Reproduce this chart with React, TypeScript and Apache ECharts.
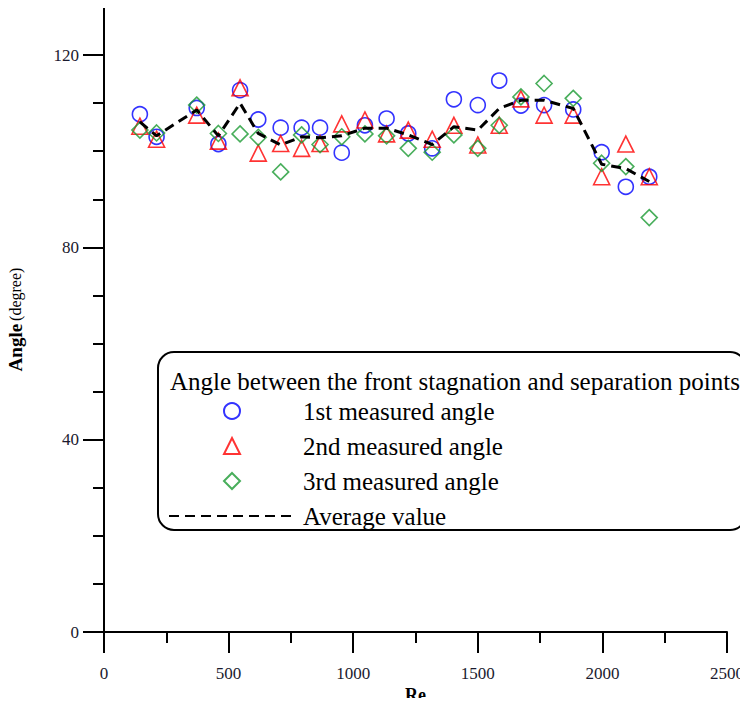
import React, { useEffect, useRef } from "react";
import * as echarts from "echarts";

const FONT = "'Liberation Serif', 'Times New Roman', serif";

const reValues = [144, 211, 372, 459, 546, 619, 709, 793, 867, 954, 1047, 1134, 1221, 1317, 1404, 1500, 1586, 1673, 1766, 1883, 1997, 2094, 2188];
const firstAngle = [107.7, 103.0, 109.0, 101.5, 112.7, 106.6, 104.9, 104.9, 104.9, 99.7, 105.4, 106.8, 103.7, 100.6, 110.8, 109.6, 114.7, 109.5, 109.6, 108.7, 99.8, 92.6, 94.7];
const secondAngle = [105.2, 102.5, 107.5, 102.1, 113.2, 99.6, 101.6, 100.6, 101.6, 105.7, 106.5, 103.6, 104.4, 102.5, 105.4, 101.3, 105.4, 110.9, 107.5, 107.5, 94.7, 101.5, 94.7];
const thirdAngle = [104.4, 103.8, 109.6, 103.7, 103.6, 102.9, 95.7, 103.4, 101.4, 103.0, 103.6, 103.2, 100.6, 99.8, 103.4, 100.6, 105.4, 111.3, 114.1, 111.0, 97.5, 96.8, 86.2];
const averageAngle = [106.1, 103.2, 108.6, 103.2, 110.0, 103.7, 101.3, 103.0, 102.8, 103.2, 104.8, 104.8, 103.4, 101.4, 105.1, 104.4, 108.9, 110.6, 110.6, 108.9, 97.3, 96.4, 93.7];

const seriesNames = ["1st measured angle", "2nd measured angle", "3rd measured angle", "Average value"];
const legendTitle = "Angle between the front stagnation and separation points";
const yMajorTicks = [0, 40, 80, 120];
const yMinorTicks = [10, 20, 30, 50, 60, 70, 90, 100, 110];

const pairs = (ys: number[]) => reValues.map((x, i) => [x, ys[i]]);

export default function App() {
  const ref = useRef<HTMLDivElement>(null);
  useEffect(() => {
    if (!ref.current) return;
    const chart = echarts.init(ref.current, null, { renderer: "svg" });
    const axisLine = { show: true, lineStyle: { color: "#000", width: 2 } };
    const markerStyle = (c: string) => ({ color: "transparent", borderColor: c, borderWidth: 1.6 });
    const legendText = { fontFamily: FONT, fontSize: 25, color: "#000", lineHeight: 26 };
    chart.setOption({
      animation: false,
      textStyle: { fontFamily: FONT },
      grid: { left: 104, right: 21, top: 7, bottom: 74, containLabel: false, outerBoundsMode: "none" },
      xAxis: {
        type: "value",
        min: 0,
        max: 2500,
        interval: 500,
        name: "Re",
        nameLocation: "middle",
        nameGap: 54,
        nameMoveOverlap: false,
        nameTextStyle: { fontFamily: FONT, fontSize: 18, fontWeight: "bold", color: "#000" },
        axisLine,
        axisTick: { show: true, inside: false, length: 21, lineStyle: { color: "#000", width: 2 } },
        minorTick: { show: true, splitNumber: 2, length: 11, lineStyle: { color: "#000", width: 2 } },
        axisLabel: { margin: 33, fontFamily: FONT, fontSize: 17, color: "#1a1a2e", formatter: (v: number) => String(v) },
        splitLine: { show: false },
      },
      yAxis: [
        {
          type: "value",
          min: 0,
          max: 130,
          name: "{b|Angle} {n|(degree)}",
          nameLocation: "middle",
          nameGap: 79,
          nameRotate: 90,
          nameMoveOverlap: false,
          nameTextStyle: {
            fontFamily: FONT,
            color: "#000",
            rich: {
              b: { fontFamily: FONT, fontSize: 19, fontWeight: "bold", color: "#000" },
              n: { fontFamily: FONT, fontSize: 16, color: "#000" },
            },
          },
          axisLine,
          axisTick: { show: true, inside: false, length: 21, customValues: yMajorTicks, lineStyle: { color: "#000", width: 2 } },
          axisLabel: { margin: 25, customValues: yMajorTicks, fontFamily: FONT, fontSize: 17, color: "#1a1a2e" },
          splitLine: { show: false },
        },
        {
          type: "value",
          min: 0,
          max: 130,
          position: "left",
          offset: 0,
          axisLine: { show: false },
          axisTick: { show: true, inside: false, length: 11, customValues: yMinorTicks, lineStyle: { color: "#000", width: 2 } },
          axisLabel: { show: false },
          splitLine: { show: false },
        },
      ],
      legend: [
        {
          orient: "vertical",
          left: 223,
          top: 398,
          padding: 0,
          itemWidth: 16,
          itemHeight: 16,
          itemGap: 9,
          textStyle: { ...legendText, padding: [0, 0, 0, 58] },
          data: seriesNames.slice(0, 3),
        },
        {
          orient: "vertical",
          left: 168,
          top: 503,
          padding: 0,
          itemWidth: 122,
          itemHeight: 16,
          itemStyle: { color: "transparent", borderColor: "transparent", borderWidth: 0 },
          textStyle: { ...legendText, padding: [0, 0, 0, 7] },
          data: seriesNames.slice(3),
        },
      ],
      graphic: [
        {
          type: "rect",
          shape: { x: 158, y: 352, width: 588, height: 178, r: 16 },
          style: { fill: "#fff", stroke: "#000", lineWidth: 2 },
          z: -1,
          silent: true,
        },
        {
          type: "text",
          x: 170,
          y: 381,
          style: { text: legendTitle, font: `25px ${FONT}`, fill: "#000", verticalAlign: "middle", align: "left" },
          silent: true,
        },
      ],
      series: [
        {
          name: seriesNames[0],
          type: "scatter",
          symbol: "circle",
          symbolSize: 15,
          itemStyle: markerStyle("#0000ff"),
          data: pairs(firstAngle),
          z: 3,
        },
        {
          name: seriesNames[1],
          type: "scatter",
          symbol: "triangle",
          symbolSize: 16,
          itemStyle: markerStyle("#ff0000"),
          data: pairs(secondAngle),
          z: 3,
        },
        {
          name: seriesNames[2],
          type: "scatter",
          symbol: "diamond",
          symbolSize: 16,
          itemStyle: markerStyle("#1a9a32"),
          data: pairs(thirdAngle),
          z: 3,
        },
        {
          name: seriesNames[3],
          type: "line",
          showSymbol: false,
          symbol: "none",
          lineStyle: { color: "#000", width: 3, type: [10, 6] },
          itemStyle: { color: "#000" },
          data: pairs(averageAngle),
          z: 4,
        },
      ],
    });
    return () => chart.dispose();
  }, []);
  return <div ref={ref} style={{ width: 748, height: 706, margin: -8 }} />;
}
